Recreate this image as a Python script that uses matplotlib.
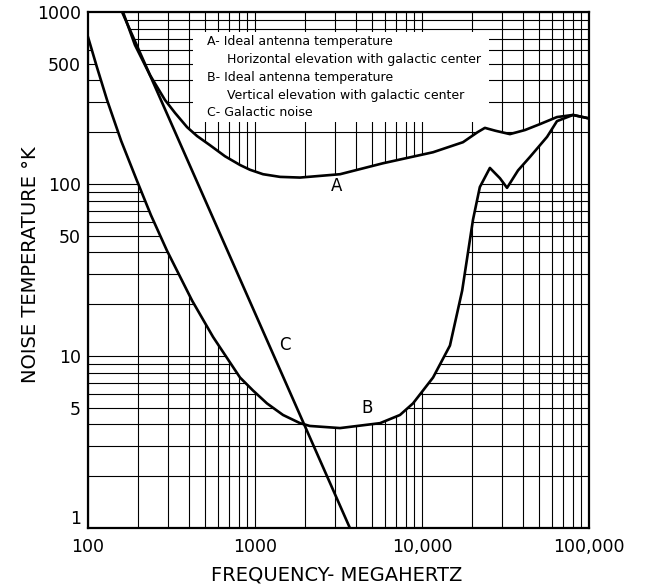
import numpy as np
import matplotlib
matplotlib.use("Agg")
import matplotlib.pyplot as plt
from matplotlib.patches import Rectangle

# curve A: ideal antenna temperature, horizontal elevation (MHz, deg K)
a_freq = [162, 191, 235, 289, 332, 392, 450, 538, 661, 813, 933, 1117,
          1413, 1860, 3230, 5840, 11650, 17600, 21500, 23800, 27500,
          33600, 41400, 50900, 64300, 80200, 97300]
a_temp = [1000, 643, 430, 308, 259, 214, 190, 168, 145, 129, 121, 114,
          110, 109, 114, 132, 153, 175, 200, 212, 204,
          195, 206, 223, 245, 252, 242]

# curve B: ideal antenna temperature, vertical elevation
b_freq = [100, 113, 130, 158, 196, 238, 297, 420, 561, 813, 973, 1180,
          1472, 1860, 2130, 3230, 5610, 7380, 8830, 11650, 14700, 17400,
          20200, 22200, 25500, 29300, 32300, 37600, 44400, 56100, 64300,
          80200, 97300]
b_temp = [716, 479, 308, 178, 105, 66, 41, 21, 12.9, 7.5, 6.3, 5.3,
          4.54, 4.07, 3.92, 3.81, 4.07, 4.54, 5.3, 7.5, 11.5, 24,
          62, 96, 124, 108, 95, 120, 144, 188, 232,
          252, 242]

# curve C: galactic noise (straight line on log-log)
c_freq = [160, 3700]
c_temp = [1000, 1]

legend_lines = ["A- Ideal antenna temperature",
                "Horizontal elevation with galactic center",
                "B- Ideal antenna temperature",
                "Vertical elevation with galactic center",
                "C- Galactic noise"]

W, H = 645, 586
fig = plt.figure(figsize=(W / 100, H / 100), dpi=100)
ax = fig.add_axes([88 / W, 1 - 528 / H, (589 - 88) / W, (528 - 12) / H])
ax.set_xscale("log")
ax.set_yscale("log")
ax.set_xlim(100, 100000)
ax.set_ylim(1, 1000)

ax.set_axisbelow(True)
ax.grid(which="both", color="black", lw=0.8)

# blank out the grid between A and B
poly_x = b_freq + a_freq[::-1] + [100]
poly_y = b_temp + a_temp[::-1] + [1000]
ax.fill(poly_x, poly_y, color="white", lw=0, zorder=1)

# legend panel
ax.add_patch(Rectangle((0.21, 0.787), 0.59, 0.174, transform=ax.transAxes,
                       facecolor="white", edgecolor="none", zorder=1))
xs = [0.2375, 0.277, 0.2375, 0.277, 0.2375]
ys = [0.942, 0.907, 0.874, 0.839, 0.806]
for x, y, s in zip(xs, ys, legend_lines):
    ax.text(x, y, s, transform=ax.transAxes, fontsize=9.0, va="center",
            ha="left", zorder=3)

lw = 1.9
ax.plot(a_freq, a_temp, color="black", lw=lw, zorder=2)
ax.plot(b_freq, b_temp, color="black", lw=lw, zorder=2)
ax.plot(c_freq, c_temp, color="black", lw=lw, zorder=2)

ax.text(3100, 98, "A", fontsize=12, ha="center", va="center")
ax.text(4690, 5.0, "B", fontsize=12, ha="center", va="center")
ax.text(1515, 11.6, "C", fontsize=12, ha="center", va="center")

ax.set_xticks([100, 1000, 10000, 100000])
ax.set_xticklabels(["100", "1000", "10,000", "100,000"])
ax.set_yticks([1, 5, 10, 50, 100, 500, 1000])
ax.set_yticklabels(["1", "5", "10", "50", "100", "500", "1000"])
ax.tick_params(which="both", length=0, labelsize=12.5)
ax.tick_params(axis="x", pad=7)
ax.tick_params(axis="y", pad=5)
ax.xaxis.set_minor_formatter(plt.NullFormatter())
ax.yaxis.set_minor_formatter(plt.NullFormatter())
ax.get_yticklabels()[0].set_va("bottom")

for sp in ax.spines.values():
    sp.set_linewidth(1.6)

ax.set_xlabel("FREQUENCY- MEGAHERTZ", fontsize=14)
ax.xaxis.set_label_coords(0.497, -0.072)
ax.set_ylabel("NOISE TEMPERATURE °K", fontsize=14)
ax.yaxis.set_label_coords(-0.095, 0.51)

fig.savefig("out.png", dpi=100)
